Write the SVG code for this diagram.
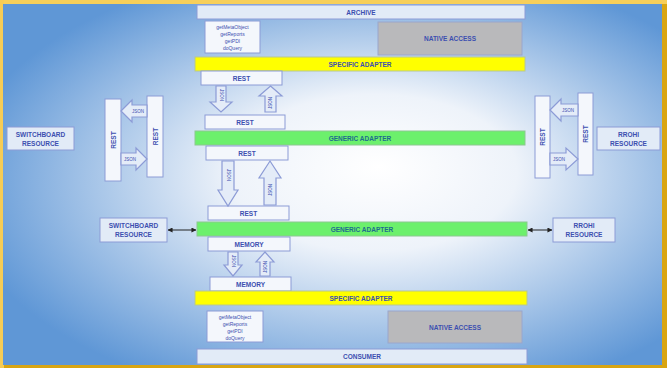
<svg xmlns="http://www.w3.org/2000/svg" width="667" height="368" viewBox="0 0 667 368">
<defs>
<radialGradient id="bg" cx="0.55" cy="0.5" r="0.62" fx="0.57" fy="0.45">
<stop offset="0" stop-color="#ffffff"/>
<stop offset="0.35" stop-color="#eef3fa"/>
<stop offset="1" stop-color="#5f97d6"/>
</radialGradient>
<marker id="ah" viewBox="0 0 6 6" refX="5.5" refY="3" markerWidth="5" markerHeight="5" orient="auto-start-reverse">
<path d="M0,0 L6,3 L0,6 z" fill="#222"/>
</marker>
<style>
.box{fill:#f4f7fc;stroke:#8c9bd6;stroke-width:1}
.bar{fill:#e2ebf7;stroke:#8c9bd6;stroke-width:1}
.yel{fill:#ffff00;stroke:#b8c890;stroke-width:1}
.grn{fill:#6cf06c;stroke:#8cc890;stroke-width:1}
.gray{fill:#b9b9bb;stroke:#9aa6cc;stroke-width:1}
.arr{fill:#e4ecf8;stroke:#8c9bd6;stroke-width:1.2}
.t{font-family:"Liberation Sans",Arial,sans-serif;font-size:6.5px;font-weight:bold;fill:#3c4fb0;text-anchor:middle;dominant-baseline:central}
.tg{fill:#1d6d8c}
.s{font-family:"Liberation Sans",Arial,sans-serif;font-size:5px;fill:#3c4fb0;text-anchor:middle;dominant-baseline:central}
.a{font-family:"Liberation Sans",Arial,sans-serif;font-size:4.5px;fill:#3c4fb0;text-anchor:middle;dominant-baseline:central}
.c{stroke:#222;stroke-width:1;fill:none}
</style>
</defs>
<rect x="0" y="0" width="667" height="368" fill="#d9a512"/>
<rect x="0" y="0" width="667" height="4" fill="#f7cf5a"/>
<rect x="0" y="0" width="4" height="368" fill="#f6cc55"/>
<rect x="3" y="4" width="659" height="361" fill="url(#bg)"/>

<g id="archive"><rect class="bar" x="197" y="5" width="328" height="14"/><text class="t" x="361" y="12">ARCHIVE</text></g>
<g id="methods-top"><rect class="box" x="205" y="21" width="55" height="32"/>
<text class="s" x="232.5" y="26.5">getMetaObject</text><text class="s" x="232.5" y="33.5">getReports</text><text class="s" x="232.5" y="40.5">getPDI</text><text class="s" x="232.5" y="47.5">doQuery</text></g>
<g id="native-top"><rect class="gray" x="378" y="22" width="144" height="33"/><text class="t" x="450" y="38.5">NATIVE ACCESS</text></g>
<g id="specific-top"><rect class="yel" x="195" y="57" width="330" height="14"/><text class="t" x="360" y="64">SPECIFIC ADAPTER</text></g>
<g id="rest1"><rect class="box" x="201" y="71" width="81" height="14"/><text class="t" x="241.5" y="78">REST</text></g>
<g id="rest2"><rect class="box" x="205" y="115" width="80" height="14"/><text class="t" x="245" y="122">REST</text></g>
<g id="generic1"><rect class="grn" x="195" y="131" width="330" height="14"/><text class="t tg" x="360" y="138">GENERIC ADAPTER</text></g>
<g id="rest3"><rect class="box" x="206" y="146" width="82" height="14"/><text class="t" x="247" y="153">REST</text></g>
<g id="rest4"><rect class="box" x="208" y="206" width="81" height="14"/><text class="t" x="248.5" y="213">REST</text></g>
<g id="generic2"><rect class="grn" x="197" y="222" width="330" height="14"/><text class="t tg" x="362" y="229">GENERIC ADAPTER</text></g>
<g id="memory1"><rect class="box" x="208" y="237" width="82" height="14"/><text class="t" x="249" y="244">MEMORY</text></g>
<g id="memory2"><rect class="box" x="210" y="277" width="81" height="14"/><text class="t" x="250.5" y="284">MEMORY</text></g>
<g id="specific-bottom"><rect class="yel" x="195" y="291" width="332" height="14"/><text class="t" x="361" y="298">SPECIFIC ADAPTER</text></g>
<g id="methods-bottom"><rect class="box" x="207" y="311" width="56" height="31"/>
<text class="s" x="235" y="316.5">getMetaObject</text><text class="s" x="235" y="323.5">getReports</text><text class="s" x="235" y="330.5">getPDI</text><text class="s" x="235" y="337.5">doQuery</text></g>
<g id="native-bottom"><rect class="gray" x="388" y="311" width="134" height="32"/><text class="t" x="455" y="327">NATIVE ACCESS</text></g>
<g id="consumer"><rect class="bar" x="197" y="349" width="330" height="15"/><text class="t" x="362" y="356.5">CONSUMER</text></g>

<g id="switchboard-left"><rect class="bar" x="7" y="127" width="67" height="23"/><text class="t" x="40.5" y="134">SWITCHBOARD</text><text class="t" x="40.5" y="143">RESOURCE</text></g>
<g id="rest-left-a"><rect class="box" x="105" y="99" width="16" height="82"/><text class="t" transform="translate(113,140) rotate(-90)">REST</text></g>
<g id="rest-left-b"><rect class="box" x="147" y="96" width="16" height="81"/><text class="t" transform="translate(155,136.5) rotate(-90)">REST</text></g>
<g id="rest-right-a"><rect class="box" x="535" y="96" width="15" height="82"/><text class="t" transform="translate(542.5,137) rotate(-90)">REST</text></g>
<g id="rest-right-b"><rect class="box" x="578" y="93" width="15" height="82"/><text class="t" transform="translate(585.5,134) rotate(-90)">REST</text></g>
<g id="rron-right"><rect class="bar" x="597" y="127" width="63" height="23"/><text class="t" x="628.5" y="134">RROHI</text><text class="t" x="628.5" y="143">RESOURCE</text></g>
<g id="switchboard-mid"><rect class="bar" x="100" y="218" width="67" height="24"/><text class="t" x="133.5" y="225.5">SWITCHBOARD</text><text class="t" x="133.5" y="234.5">RESOURCE</text></g>
<g id="rron-mid"><rect class="bar" x="553" y="218" width="62" height="24"/><text class="t" x="584" y="225.5">RROHI</text><text class="t" x="584" y="234.5">RESOURCE</text></g>

<g id="connectors">
<path class="arr" d="M216,86 H226 V102 H232 L221,112 L210,102 H216 Z"/><text class="a" transform="translate(221,95) rotate(90)">JSON</text>
<path class="arr" d="M270.5,86 L282,96 H276 V112 H265 V96 H259 Z"/><text class="a" transform="translate(270.5,103) rotate(-90)">JSON</text>
<path class="arr" d="M222,161 H234 V190 H238 L228,206 L218,190 H222 Z"/><text class="a" transform="translate(228,175) rotate(90)">JSON</text>
<path class="arr" d="M270,161 L281,178 H276 V205 H264 V178 H259 Z"/><text class="a" transform="translate(270,190) rotate(-90)">JSON</text>
<path class="arr" d="M228,252 H238 V265 H242 L233,276 L224,265 H228 Z"/><text class="a" transform="translate(233,261) rotate(90)">JSON</text>
<path class="arr" d="M265,252 L274,262 H270 V276 H260 V262 H256 Z"/><text class="a" transform="translate(265,267) rotate(-90)">JSON</text>
<path class="arr" d="M121,111 L132,100 V105 H147 V117 H132 V122 Z"/><text class="a" x="138" y="111">JSON</text>
<path class="arr" d="M121,153 H136 V148 L147,159 L136,170 V165 H121 Z"/><text class="a" x="130" y="159">JSON</text>
<path class="arr" d="M550,110 L561,99 V104 H578 V116 H561 V121 Z"/><text class="a" x="568" y="110">JSON</text>
<path class="arr" d="M550,153 H566 V148 L578,159 L566,170 V165 H550 Z"/><text class="a" x="559" y="159">JSON</text>
<line class="c" x1="168" y1="230" x2="196" y2="230" marker-start="url(#ah)" marker-end="url(#ah)"/>
<line class="c" x1="528" y1="230" x2="552" y2="230" marker-start="url(#ah)" marker-end="url(#ah)"/>
</g>
</svg>
